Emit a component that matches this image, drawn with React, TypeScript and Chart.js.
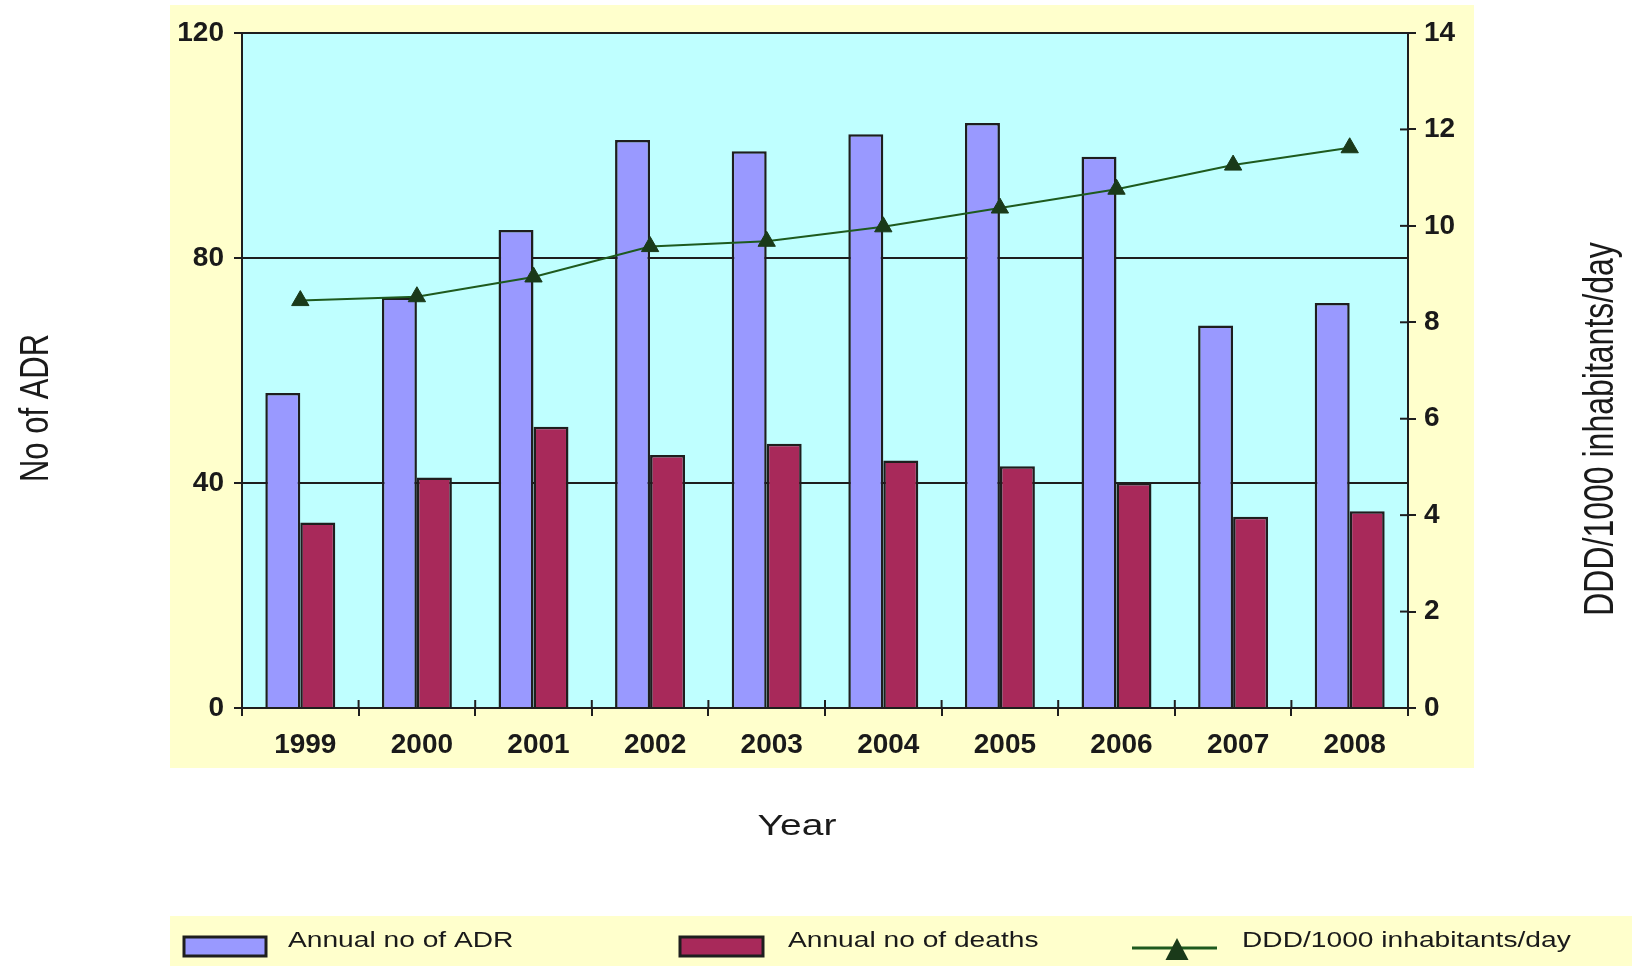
import React, { useEffect, useRef } from 'react';
import { Chart, registerables } from 'chart.js';

Chart.register(...registerables);

const categories = ['1999', '2000', '2001', '2002', '2003', '2004', '2005', '2006', '2007', '2008'];
const adrValues = [56, 73, 85, 101, 99, 102, 104, 98, 68, 72];
const deathValues = [33, 41, 50, 45, 47, 44, 43, 40, 34, 35];
const dddValues = [8.45, 8.53, 8.94, 9.57, 9.68, 9.98, 10.37, 10.76, 11.26, 11.62];
const leftTickLabels = [0, 40, 80, 120];
const rightTickLabels = [0, 2, 4, 6, 8, 10, 12, 14];

const seriesNames = ['Annual no of ADR', 'Annual no of deaths', 'DDD/1000 inhabitants/day'];
const leftTitle = 'No of ADR';
const rightTitle = 'DDD/1000 inhabitants/day';
const bottomTitle = 'Year';

const BLUE = '#9999FF';
const RED = '#A8295A';
const GREEN_LINE = '#1E5A1E';
const GREEN_MARK = '#1A3A1A';
const YELLOW = '#FFFFCC';
const CYAN = '#BFFFFF';
const DARK = '#1e1e1e';
const FONT = "'Liberation Sans', Arial, sans-serif";

function stretchedText(ctx: CanvasRenderingContext2D, text: string, x: number, y: number, font: string, sx: number, align: CanvasTextAlign, rotate = 0) {
  ctx.save();
  ctx.translate(x, y);
  ctx.scale(sx, 1);
  if (rotate) ctx.rotate(rotate);
  ctx.font = font;
  ctx.textAlign = align;
  ctx.textBaseline = 'alphabetic';
  ctx.fillStyle = '#1a1a1a';
  ctx.fillText(text, 0, 0);
  ctx.restore();
}

const decorPlugin = {
  id: 'decor',
  beforeDraw(chart: any) {
    const { ctx, chartArea: a } = chart;
    ctx.save();
    ctx.fillStyle = '#ffffff';
    ctx.fillRect(0, 0, chart.width, chart.height);
    ctx.fillStyle = YELLOW;
    ctx.fillRect(170, 5, 1304, 763);
    ctx.fillRect(170, 916, 1462, 50);
    ctx.fillStyle = CYAN;
    ctx.fillRect(a.left, a.top, a.right - a.left, a.bottom - a.top);
    ctx.restore();
  },
  afterDraw(chart: any) {
    const { ctx, chartArea: a } = chart;
    const xs = chart.scales.x;
    const y1 = chart.scales.y1;
    ctx.save();
    ctx.strokeStyle = DARK;
    ctx.lineWidth = 2;
    rightTickLabels.forEach((v) => {
      const py = y1.getPixelForValue(v);
      ctx.beginPath();
      ctx.moveTo(a.right - 8, py);
      ctx.lineTo(a.right, py);
      ctx.stroke();
    });
    const cw = (a.right - a.left) / categories.length;
    for (let i = 0; i <= categories.length; i++) {
      const px = i < categories.length ? xs.getPixelForValue(i) - cw / 2 : a.right;
      ctx.beginPath();
      ctx.moveTo(px, a.bottom - 8);
      ctx.lineTo(px, a.bottom);
      ctx.stroke();
    }
    ctx.restore();

    stretchedText(ctx, leftTitle, 48, 408, `31px ${FONT}`, 1.3, 'center', -Math.PI / 2);
    stretchedText(ctx, rightTitle, 1613, 429, `32px ${FONT}`, 1.3, 'center', -Math.PI / 2);
    stretchedText(ctx, bottomTitle, 797, 835, `30px ${FONT}`, 1.3, 'center');

    ctx.save();
    ctx.lineWidth = 3;
    ctx.strokeStyle = DARK;
    ctx.fillStyle = BLUE;
    ctx.fillRect(184, 937, 82, 19);
    ctx.strokeRect(184, 937, 82, 19);
    ctx.fillStyle = RED;
    ctx.fillRect(680, 937, 83, 19);
    ctx.strokeRect(680, 937, 83, 19);
    ctx.strokeStyle = GREEN_LINE;
    ctx.beginPath();
    ctx.moveTo(1132, 948);
    ctx.lineTo(1217, 948);
    ctx.stroke();
    ctx.fillStyle = GREEN_MARK;
    ctx.beginPath();
    ctx.moveTo(1177, 938);
    ctx.lineTo(1188.5, 960);
    ctx.lineTo(1165.5, 960);
    ctx.closePath();
    ctx.fill();
    ctx.restore();
    stretchedText(ctx, seriesNames[0], 288, 947, `22px ${FONT}`, 1.28, 'left');
    stretchedText(ctx, seriesNames[1], 788, 947, `22px ${FONT}`, 1.28, 'left');
    stretchedText(ctx, seriesNames[2], 1242, 947, `22px ${FONT}`, 1.28, 'left');
  },
};

export default function App() {
  const ref = useRef<HTMLCanvasElement>(null);
  useEffect(() => {
    const canvas = ref.current;
    if (!canvas) return;
    const tickFont = { family: FONT, size: 28, weight: 'bold' as const };
    const chart = new Chart(canvas, {
      type: 'bar',
      data: {
        labels: categories,
        datasets: [
          {
            type: 'line' as const,
            label: seriesNames[2],
            data: dddValues,
            yAxisID: 'y1',
            borderColor: GREEN_LINE,
            borderWidth: 2,
            pointStyle: 'triangle',
            pointRadius: 10,
            pointBackgroundColor: GREEN_MARK,
            pointBorderColor: GREEN_MARK,
            pointBorderWidth: 1,
            order: 0,
          } as any,
          {
            label: seriesNames[0],
            data: adrValues,
            yAxisID: 'y',
            backgroundColor: BLUE,
            borderColor: DARK,
            borderWidth: 2.5,
            categoryPercentage: 0.6,
            barPercentage: 1.0,
            order: 1,
          },
          {
            label: seriesNames[1],
            data: deathValues,
            yAxisID: 'y',
            backgroundColor: RED,
            borderColor: DARK,
            borderWidth: 2.5,
            categoryPercentage: 0.6,
            barPercentage: 1.0,
            order: 1,
          },
        ],
      },
      options: {
        responsive: false,
        animation: false,
        layout: { padding: { top: 33, left: 0, right: 0, bottom: 0 } },
        plugins: { legend: { display: false }, tooltip: { enabled: false } },
        scales: {
          x: {
            grid: { offset: true, drawOnChartArea: false, tickLength: 8, color: DARK, lineWidth: 2 },
            border: { color: DARK, width: 2 },
            ticks: { font: { family: FONT, size: 28, weight: 'bold' }, color: '#1a1a1a', padding: 12, labelOffset: 5 },
            afterFit: (s: any) => { s.height = 258; },
          },
          y: {
            position: 'left',
            min: 0,
            max: 120,
            afterBuildTicks: (s: any) => { s.ticks = leftTickLabels.map((v) => ({ value: v })); },
            grid: { color: DARK, lineWidth: 2, tickLength: 8 },
            border: { color: DARK, width: 2 },
            ticks: { font: tickFont, color: '#1a1a1a', padding: 10 },
            afterFit: (s: any) => { s.width = 242; },
          },
          y1: {
            position: 'right',
            min: 0,
            max: 14,
            afterBuildTicks: (s: any) => { s.ticks = rightTickLabels.map((v) => ({ value: v })); },
            grid: { drawOnChartArea: false, color: DARK, lineWidth: 2, tickLength: 8 },
            border: { color: DARK, width: 2 },
            ticks: { font: tickFont, color: '#1a1a1a', padding: 8 },
            afterFit: (s: any) => { s.width = 224; },
          },
        },
      },
      plugins: [decorPlugin],
    });
    return () => chart.destroy();
  }, []);
  return (
    <div style={{ position: 'absolute', left: 0, top: 0, width: 1632, height: 966 }}>
      <canvas ref={ref} width={1632} height={966} style={{ display: 'block', width: 1632, height: 966 }} />
    </div>
  );
}
